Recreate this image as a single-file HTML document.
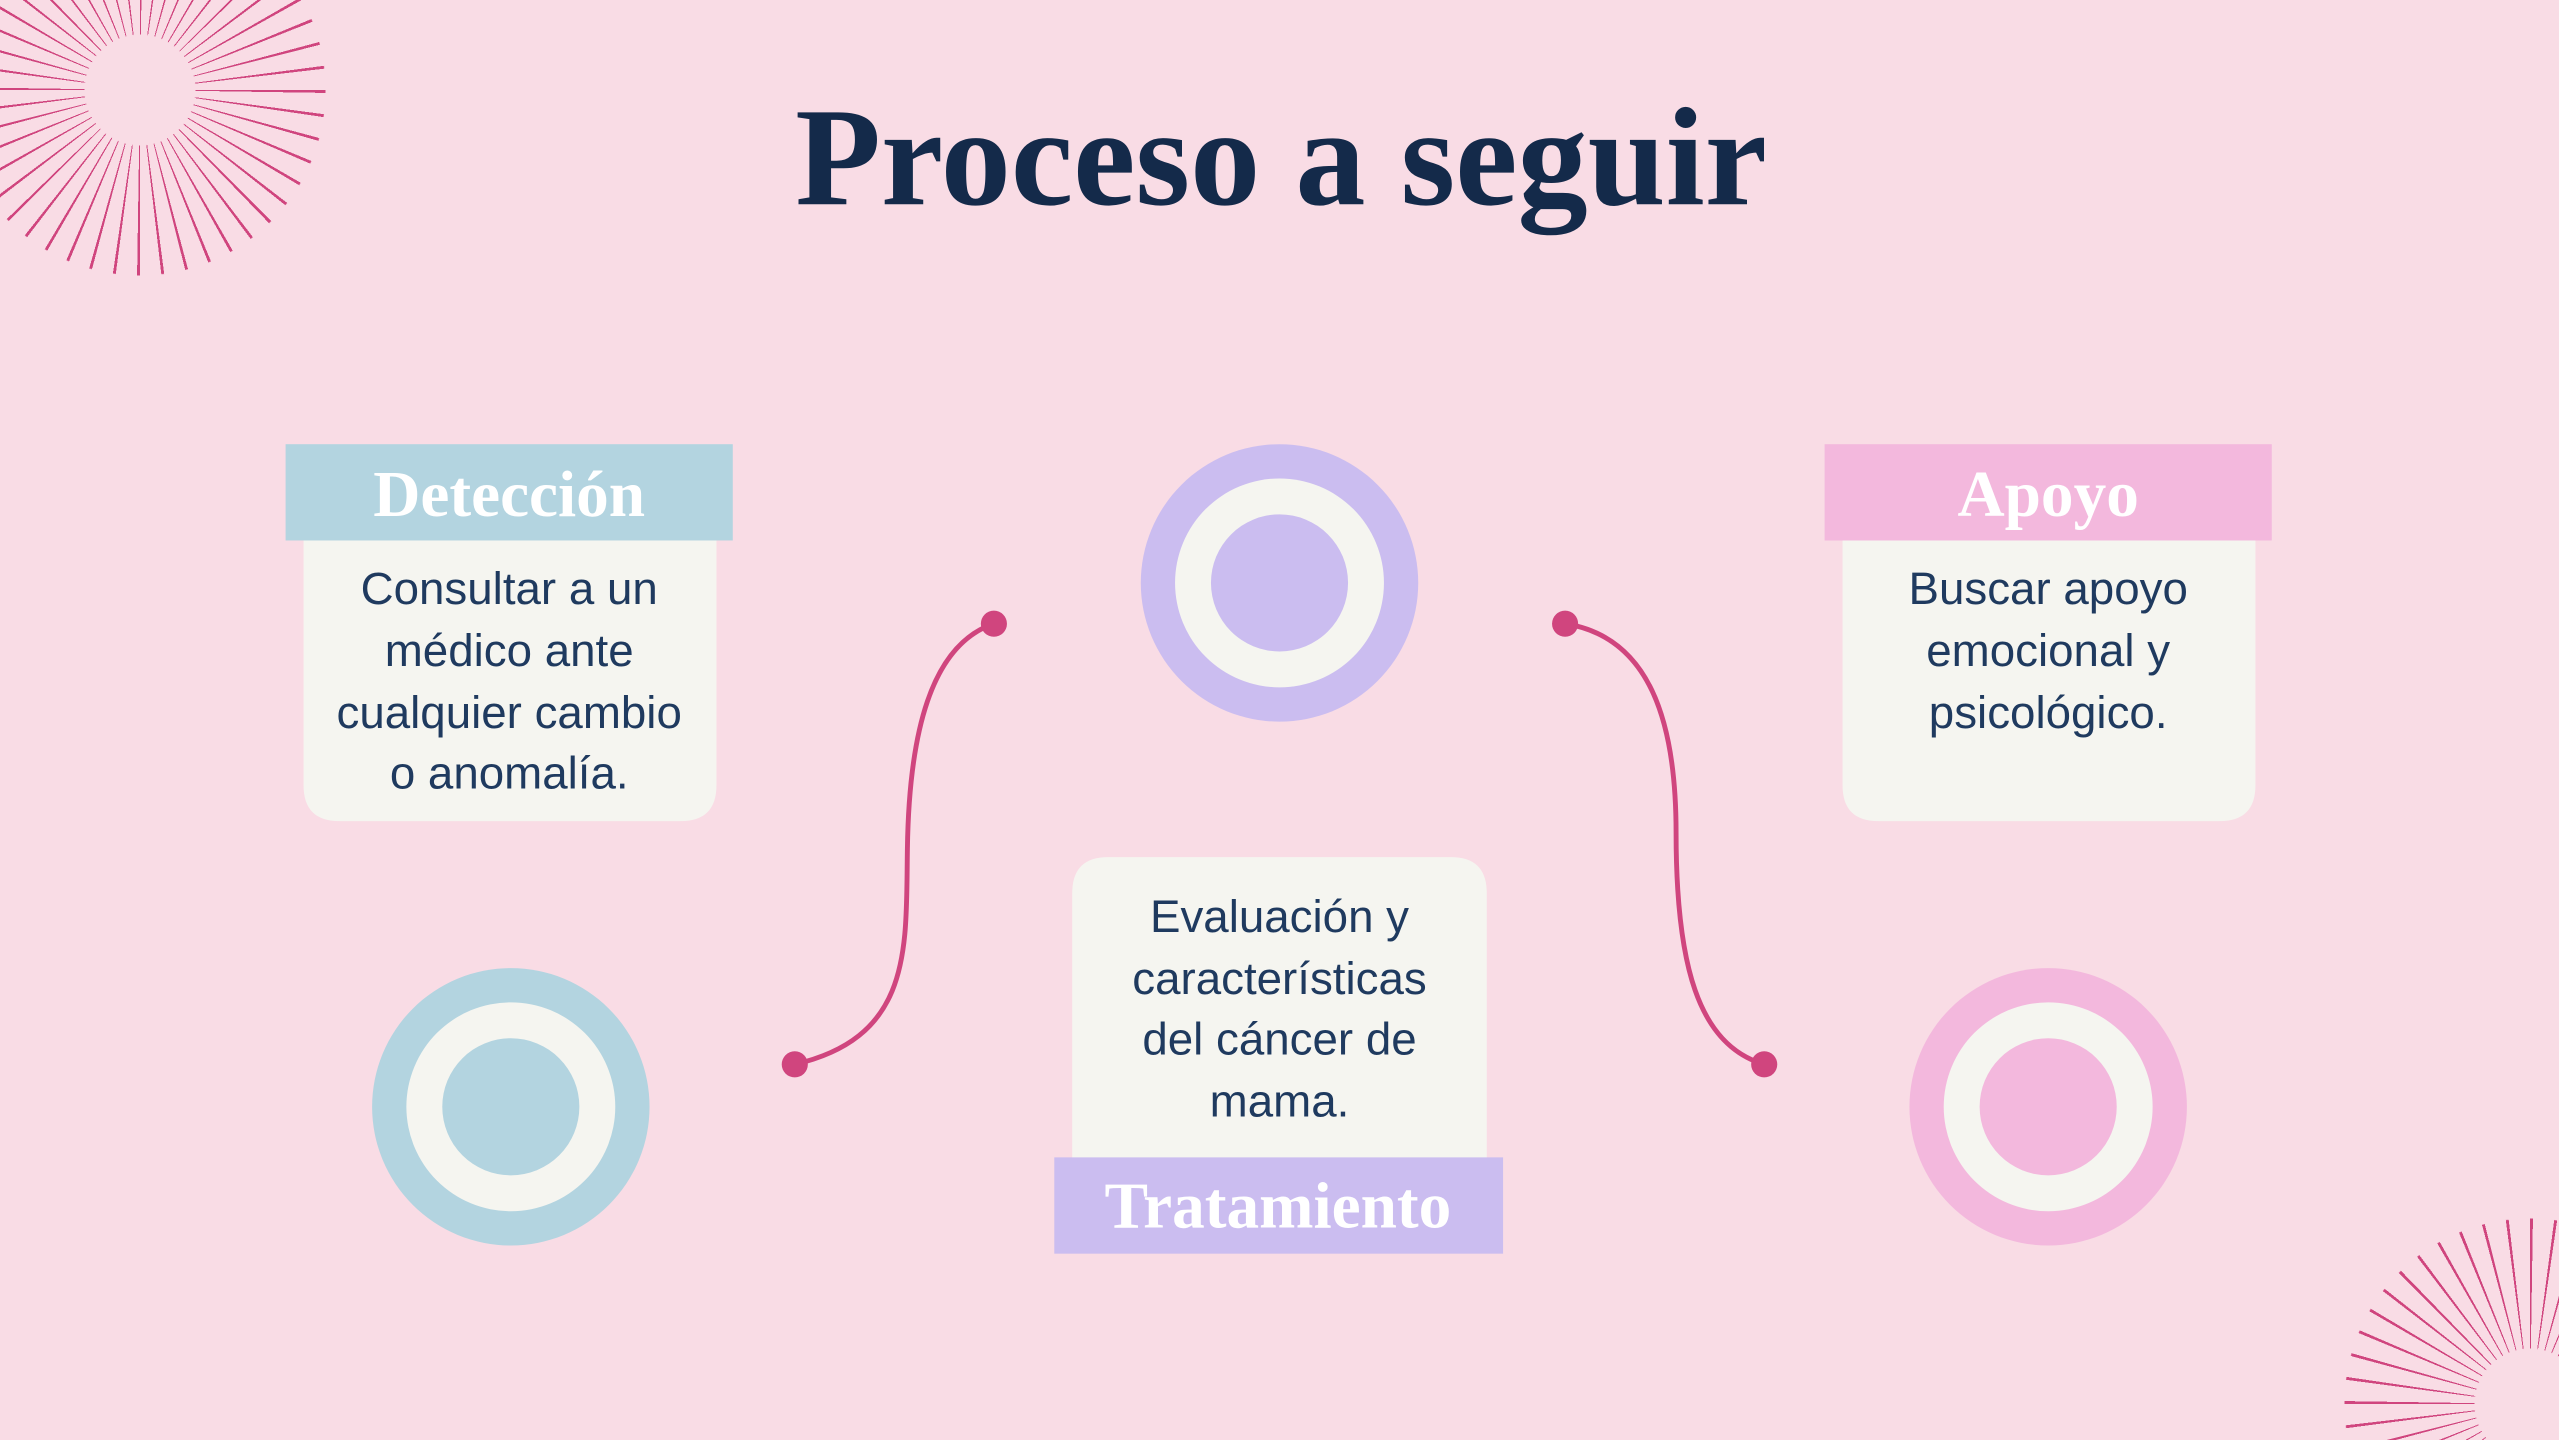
<!DOCTYPE html>
<html><head><meta charset="utf-8"><style>
html,body{margin:0;padding:0;background:#f9dce5;width:2559px;height:1440px;overflow:hidden;position:relative;}
svg{display:block;position:absolute;left:0;top:0;}
.t{font-family:"Liberation Serif",serif;font-weight:bold;}
.b{font-family:"Liberation Sans",sans-serif;font-size:28px;fill:#1f3a5f;text-anchor:middle;}
.sun{position:absolute;}
#s1{left:0;top:0;width:340px;height:290px;
background:radial-gradient(circle at 140px 90px,#f9dce5 55px,rgba(249,220,229,0) 56px,rgba(249,220,229,0) 185px,#f9dce5 186px),
repeating-conic-gradient(from 0deg at 140px 90px,#d0457e 0deg 0.9deg,rgba(0,0,0,0) 0.9deg 7.5deg);}
#s2{left:2290px;top:1160px;width:269px;height:280px;
background:radial-gradient(circle at 240px 244px,#f9dce5 55px,rgba(249,220,229,0) 56px,rgba(249,220,229,0) 185px,#f9dce5 186px),
repeating-conic-gradient(from 0deg at 240px 244px,#d0457e 0deg 0.9deg,rgba(0,0,0,0) 0.9deg 7.5deg);}
</style></head><body>
<svg width="2559" height="1440" viewBox="0 0 1568 882" xmlns="http://www.w3.org/2000/svg">
<rect width="1568" height="882" fill="#f9dce5"/>
<text class="t" x="785" y="125" font-size="86" fill="#142a4a" text-anchor="middle">Proceso a seguir</text>
<path d="M487,652 C560,635 555,580 556,520 C557,450 570,395 609,382" fill="none" stroke="#d0457e" stroke-width="3"/>
<path d="M959,382 C1010,390 1027,440 1027,510 C1027,590 1040,640 1081,652" fill="none" stroke="#d0457e" stroke-width="3"/>
<circle cx="487" cy="652" r="8" fill="#d0457e"/><circle cx="609" cy="382" r="8" fill="#d0457e"/>
<circle cx="959" cy="382" r="8" fill="#d0457e"/><circle cx="1081" cy="652" r="8" fill="#d0457e"/>
<circle cx="313" cy="678" r="85" fill="#b3d4e0"/><circle cx="313" cy="678" r="64" fill="#f5f5f0"/><circle cx="313" cy="678" r="42" fill="#b3d4e0"/>
<circle cx="784" cy="357" r="85" fill="#cbbdf0"/><circle cx="784" cy="357" r="64" fill="#f5f5f0"/><circle cx="784" cy="357" r="42" fill="#cbbdf0"/>
<circle cx="1255" cy="678" r="85" fill="#f3b8dd"/><circle cx="1255" cy="678" r="64" fill="#f5f5f0"/><circle cx="1255" cy="678" r="42" fill="#f3b8dd"/>
<path d="M186,320 H439 V481 Q439,503 417,503 H208 Q186,503 186,481 Z" fill="#f5f5f0"/>
<rect x="175" y="272" width="274" height="59" fill="#b3d4e0"/>
<text class="t" x="312" y="316" font-size="40" fill="#fff" text-anchor="middle">Detección</text>
<text class="b" x="312" y="370">Consultar a un</text>
<text class="b" x="312" y="408">médico ante</text>
<text class="b" x="312" y="446">cualquier cambio</text>
<text class="b" x="312" y="483">o anomalía.</text>
<path d="M679,525 H889 Q911,525 911,547 V715 H657 V547 Q657,525 679,525 Z" fill="#f5f5f0"/>
<rect x="646" y="709" width="275" height="59" fill="#cbbdf0"/>
<text class="t" x="783" y="752" font-size="40" fill="#fff" text-anchor="middle">Tratamiento</text>
<text class="b" x="784" y="571">Evaluación y</text>
<text class="b" x="784" y="609">características</text>
<text class="b" x="784" y="646">del cáncer de</text>
<text class="b" x="784" y="684">mama.</text>
<path d="M1129,320 H1382 V481 Q1382,503 1360,503 H1151 Q1129,503 1129,481 Z" fill="#f5f5f0"/>
<rect x="1118" y="272" width="274" height="59" fill="#f3b8dd"/>
<text class="t" x="1255" y="316" font-size="40" fill="#fff" text-anchor="middle">Apoyo</text>
<text class="b" x="1255" y="370">Buscar apoyo</text>
<text class="b" x="1255" y="408">emocional y</text>
<text class="b" x="1255" y="446">psicológico.</text>
</svg>
<div class="sun" id="s1"></div>
<div class="sun" id="s2"></div>
</body></html>
